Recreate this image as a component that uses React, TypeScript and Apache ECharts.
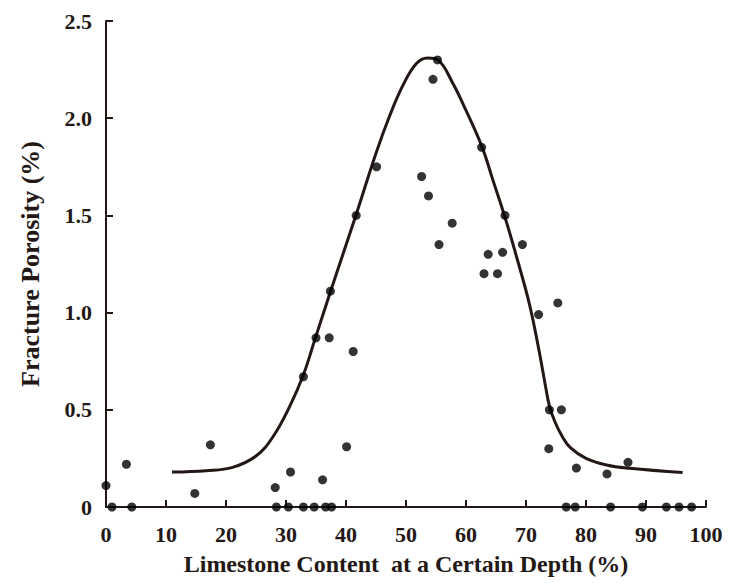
import React, { useEffect, useRef } from "react";
import * as echarts from "echarts";

const scatterX = [
  0, 1, 3.4, 4.3, 14.8, 17.4, 28.2, 28.4, 30.4, 30.75, 32.9, 34.7, 36.1, 36.6, 37.6, 40.1,
  73.9, 75.9, 73.8, 78.4, 83.5, 87.0, 76.7, 78.2, 84.1, 89.4, 93.4, 95.5, 97.6,
  55.25, 54.5, 62.6, 45.1, 52.6, 53.75, 41.7, 66.5, 57.7,
  55.5, 69.4, 63.7, 66.1, 63.0, 65.25, 37.4, 75.3, 72.1, 35.0, 37.2, 41.2, 32.9,
];
const scatterY = [
  0.11, 0, 0.22, 0, 0.07, 0.32, 0.1, 0, 0, 0.18, 0, 0, 0.14, 0, 0, 0.31,
  0.5, 0.5, 0.3, 0.2, 0.17, 0.23, 0, 0, 0, 0, 0, 0, 0,
  2.3, 2.2, 1.85, 1.75, 1.7, 1.6, 1.5, 1.5, 1.46,
  1.35, 1.35, 1.3, 1.31, 1.2, 1.2, 1.11, 1.05, 0.99, 0.87, 0.87, 0.8, 0.67,
];

const curveX = [
  11, 16.7, 21.1, 25, 27.8, 30.6, 32.9, 34.9, 37.5, 41.7, 45, 47.25, 49.5, 51.7, 53.6,
  55.3, 57.8, 60, 62.7, 64.5, 66.4, 68.4, 70.6, 72.2, 73.2, 73.9, 74.8, 76.0, 77.4, 80.0, 83.4, 87.25, 96.1,
];
const curveY = [
  0.18, 0.187, 0.204, 0.262, 0.36, 0.516, 0.68, 0.87, 1.116, 1.505, 1.82, 2.01, 2.17, 2.28, 2.31,
  2.3, 2.18, 2.04, 1.85, 1.68, 1.5, 1.29, 1.04, 0.8, 0.63, 0.52, 0.44, 0.365, 0.305, 0.25, 0.216, 0.199, 0.177,
];

const xTickLabels = ["0", "10", "20", "30", "40", "50", "60", "70", "80", "90", "100"];
const yTickLabels = ["0", "0.5", "1.0", "1.5", "2.0", "2.5"];

const INK = "#231815";
const FONT = "'Liberation Serif', 'Times New Roman', serif";

export default function App() {
  const ref = useRef<HTMLDivElement>(null);
  useEffect(() => {
    document.body.style.margin = "0";
    if (!ref.current) return;
    const chart = echarts.init(ref.current, undefined, { renderer: "svg" });
    const axisCommon = {
      axisLine: { show: true, onZero: false, lineStyle: { color: INK, width: 2 } },
      axisTick: { show: true, inside: true, length: 7, lineStyle: { color: INK, width: 2 } },
      splitLine: { show: false },
    };
    chart.setOption({
      animation: false,
      backgroundColor: "#ffffff",
      grid: { left: 106, right: 23, top: 21, bottom: 76, containLabel: false, outerBoundsMode: "none" },
      xAxis: {
        type: "value",
        min: 0,
        max: 100,
        interval: 10,
        name: "Limestone Content  at a Certain Depth (%)",
        nameLocation: "middle",
        nameGap: 45,
        nameTextStyle: { fontFamily: FONT, fontWeight: "bold", fontSize: 24, color: INK },
        ...axisCommon,
        axisLabel: {
          margin: 16,
          fontFamily: FONT,
          fontWeight: "bold",
          fontSize: 22,
          color: INK,
          formatter: (v: number) => xTickLabels[Math.round(v / 10)] ?? "",
        },
      },
      yAxis: {
        type: "value",
        min: 0,
        max: 2.5,
        interval: 0.5,
        name: "Fracture Porosity (%)",
        nameLocation: "middle",
        nameGap: 63,
        nameTextStyle: { fontFamily: FONT, fontWeight: "bold", fontSize: 26, color: INK },
        ...axisCommon,
        axisLabel: {
          margin: 14,
          fontFamily: FONT,
          fontWeight: "bold",
          fontSize: 22,
          color: INK,
          formatter: (v: number) => yTickLabels[Math.round(v / 0.5)] ?? "",
        },
      },
      series: [
        {
          type: "line",
          data: curveX.map((x, i) => [x, curveY[i]]),
          smooth: 0.4,
          showSymbol: false,
          lineStyle: { color: INK, width: 3 },
          z: 2,
        },
        {
          type: "scatter",
          data: scatterX.map((x, i) => [x, scatterY[i]]),
          symbol: "circle",
          symbolSize: 9,
          clip: false,
          itemStyle: { color: "#000000" },
          z: 3,
        },
      ],
    });
    return () => chart.dispose();
  }, []);
  return <div ref={ref} style={{ width: 729, height: 583 }} />;
}
